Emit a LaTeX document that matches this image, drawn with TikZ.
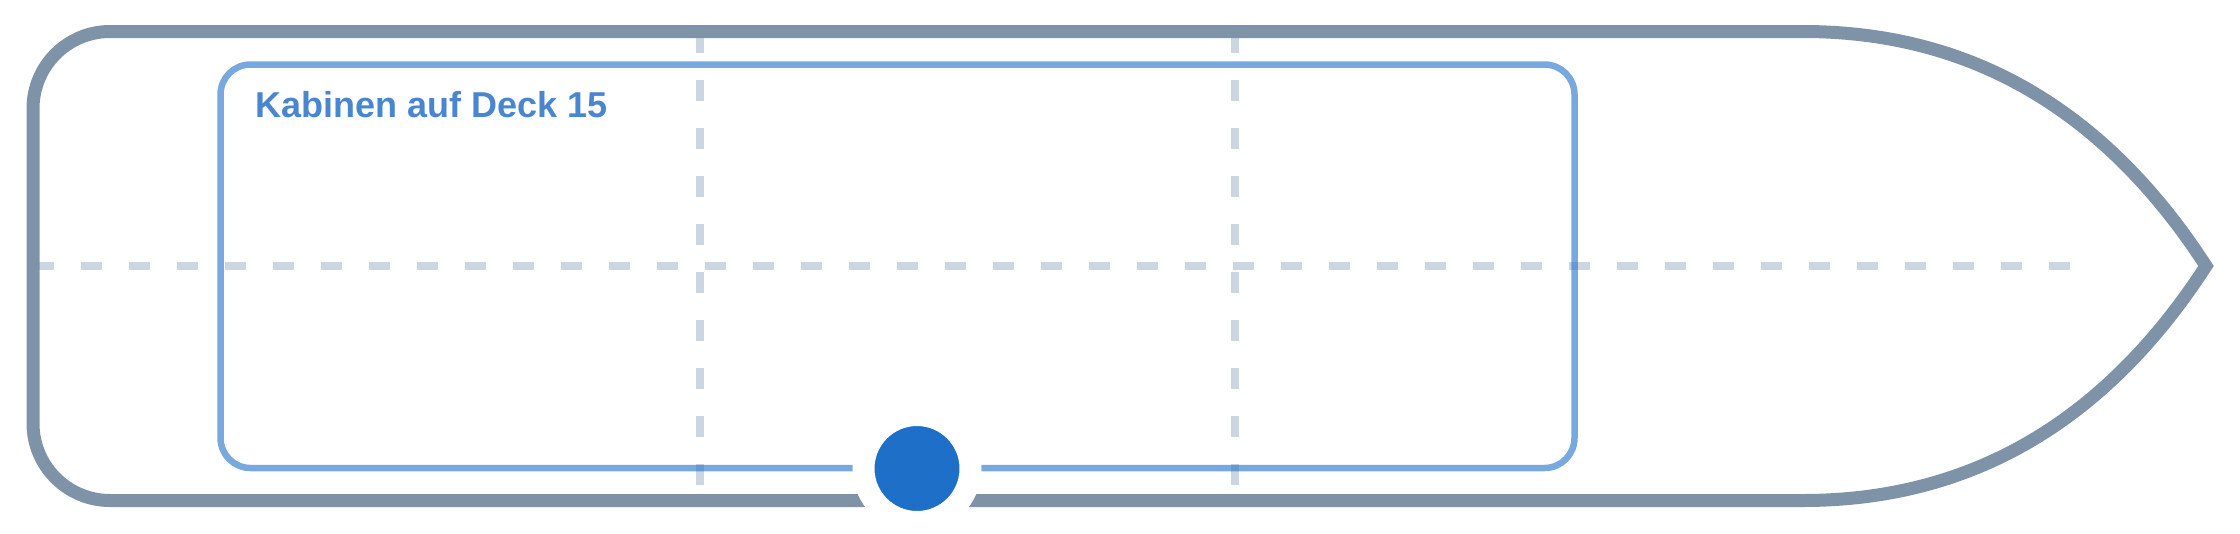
\documentclass[tikz,border=0pt]{standalone}
\usepackage{fontspec}
\setmainfont{Liberation Sans}
\definecolor{hullc}{RGB}{127,147,168}
\definecolor{guidec}{RGB}{203,214,226}
\definecolor{dotc}{RGB}{30,111,200}
\definecolor{labelc}{RGB}{74,134,208}
\begin{document}
\begin{tikzpicture}[x=1pt,y=-1pt,
  guide/.style={draw=guidec,line width=7.5pt,dash pattern=on 21pt off 27pt},
  hull/.style={draw=hullc,line width=13pt,line join=miter},
  cabins/.style={draw=dotc,draw opacity=0.6,line width=6.5pt,rounded corners=30pt},
  marker/.style={circle,fill=dotc,draw=white,line width=22pt,minimum size=107pt,inner sep=0pt},
  lbl/.style={text=labelc,font=\bfseries\fontsize{36}{40}\selectfont,anchor=base west,inner sep=0pt}]
\useasboundingbox (0,0) rectangle (2240,533);
% guides
\coordinate (gl) at (33,266);
\coordinate (gr) at (2072,266);
\coordinate (v1t) at (700,31.5);
\coordinate (v1b) at (700,500);
\coordinate (v2t) at (1235,31.5);
\coordinate (v2b) at (1235,500);
\draw[guide] (gl) -- (gr);
\draw[guide] (v1t) -- (v1b);
\draw[guide] (v2t) -- (v2b);
% cabins
\draw[cabins] (220.5,64.5) rectangle (1574.5,468);
\node[lbl] (label) at (255,117) {Kabinen auf Deck 15};
% hull
\draw[hull] (1803,31.5)
  [rounded corners=77pt] -- (33,31.5) -- (33,500.5) [sharp corners] -- (1803,500.5)
  .. controls (1970.3,500.5) and (2104.7,422.3) .. (2206,266)
  .. controls (2104.7,109.7) and (1970.3,31.5) .. (1803,31.5) -- cycle;
% marker
\node[marker] (dot) at (917,468.5) {};
\end{tikzpicture}
\end{document}
